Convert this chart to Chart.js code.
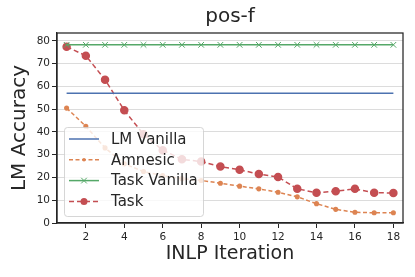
<!DOCTYPE html>
<html lang="en">
<head>
<meta charset="UTF-8">
<title>pos-f</title>
<script src="https://cdn.jsdelivr.net/npm/chart.js"></script>
<style>
    body { margin: 0; background: white; }
    .wrap { width: 415px; height: 277px; }
</style>
</head>
<body>
<div class="wrap"><canvas id="chart" width="415" height="277"></canvas></div>
<script>
const iterations = [1, 2, 3, 4, 5, 6, 7, 8, 9, 10, 11, 12, 13, 14, 15, 16, 17, 18];
const lmVanilla = [57, 57, 57, 57, 57, 57, 57, 57, 57, 57, 57, 57, 57, 57, 57, 57, 57, 57];
const amnesic = [50.5, 42.5, 33, 26, 22.6, 20.8, 19.5, 18.7, 17.5, 16.2, 15, 13.5, 11.5, 8.5, 6, 4.7, 4.5, 4.5];
const taskVanilla = [78.3, 78.3, 78.3, 78.3, 78.3, 78.3, 78.3, 78.3, 78.3, 78.3, 78.3, 78.3, 78.3, 78.3, 78.3, 78.3, 78.3, 78.3];
const task = [77.5, 73.5, 63, 49.5, 39, 32, 28, 27, 24.8, 23.4, 21.5, 20.2, 15, 13.3, 14, 15, 13.3, 13.2];
const xTicks = [2, 4, 6, 8, 10, 12, 14, 16, 18];
const yTicks = [0, 10, 20, 30, 40, 50, 60, 70, 80];

const pts = arr => arr.map((v, i) => ({ x: iterations[i], y: v }));
const dark = '#262626';

// frame on all four sides + title
const framePlugin = {
    id: 'frame',
    afterDraw(chart) {
        const { ctx, chartArea: a } = chart;
        ctx.save();
        ctx.strokeStyle = dark;
        ctx.lineWidth = 1.25;
        ctx.strokeRect(a.left, a.top, a.right - a.left, a.bottom - a.top);
        ctx.fillStyle = dark;
        ctx.font = '20px "DejaVu Sans"';
        ctx.textAlign = 'center';
        ctx.textBaseline = 'middle';
        ctx.fillText('pos-f', (a.left + a.right) / 2, 17);
        ctx.restore();
    }
};

// matplotlib-like legend inside the plot
const boxLegend = {
    id: 'boxLegend',
    afterDraw(chart) {
        const ctx = chart.ctx;
        const x0 = 64, y0 = 127, w = 139, h = 89;
        ctx.save();
        ctx.fillStyle = 'rgba(255,255,255,0.8)';
        ctx.strokeStyle = 'rgba(204,204,204,0.8)';
        ctx.lineWidth = 1;
        ctx.beginPath();
        ctx.roundRect(x0 + 0.5, y0 + 0.5, w, h, 3);
        ctx.fill();
        ctx.stroke();
        chart.data.datasets.forEach((ds, i) => {
            const y = 139 + i * 20.8;
            ctx.strokeStyle = ds.borderColor;
            ctx.lineWidth = ds.borderWidth;
            ctx.setLineDash(ds.borderDash || []);
            ctx.beginPath();
            ctx.moveTo(69, y);
            ctx.lineTo(99, y);
            ctx.stroke();
            ctx.setLineDash([]);
            if (ds.pointRadius > 0) {
                ctx.fillStyle = ds.pointBackgroundColor;
                ctx.strokeStyle = ds.pointBorderColor;
                ctx.beginPath();
                if (ds.pointStyle === 'circle') {
                    ctx.arc(84, y, ds.pointRadius, 0, Math.PI * 2);
                    ctx.fill();
                } else {
                    const r = ds.pointRadius * 0.707;
                    ctx.moveTo(84 - r, y - r); ctx.lineTo(84 + r, y + r);
                    ctx.moveTo(84 + r, y - r); ctx.lineTo(84 - r, y + r);
                    ctx.lineWidth = 1;
                    ctx.stroke();
                }
            }
            ctx.fillStyle = dark;
            ctx.font = '15px "DejaVu Sans"';
            ctx.textAlign = 'left';
            ctx.textBaseline = 'middle';
            ctx.fillText(ds.label, 111, y + 1);
        });
        ctx.restore();
    }
};

new Chart(document.getElementById('chart'), {
    type: 'line',
    data: {
        datasets: [
            {
                label: 'LM Vanilla', data: pts(lmVanilla),
                borderColor: '#4c72b0', borderWidth: 1.5, pointRadius: 0
            },
            {
                label: 'Amnesic', data: pts(amnesic),
                borderColor: '#dd8452', borderWidth: 1.5, borderDash: [4, 2.5],
                pointStyle: 'circle', pointRadius: 1.8,
                pointBackgroundColor: '#dd8452', pointBorderColor: '#dd8452'
            },
            {
                label: 'Task Vanilla', data: pts(taskVanilla),
                borderColor: '#55a868', borderWidth: 1.5,
                pointStyle: 'crossRot', pointRadius: 4,
                pointBackgroundColor: '#55a868', pointBorderColor: '#55a868', pointBorderWidth: 1
            },
            {
                label: 'Task', data: pts(task),
                borderColor: '#c44e52', borderWidth: 1.5, borderDash: [5, 3],
                pointStyle: 'circle', pointRadius: 3.5,
                pointBackgroundColor: '#c44e52', pointBorderColor: '#c44e52'
            }
        ]
    },
    options: {
        responsive: false,
        animation: false,
        layout: { padding: { top: 33, right: 12, left: 0, bottom: 0 } },
        plugins: {
            legend: { display: false },
            tooltip: { enabled: false }
        },
        scales: {
            x: {
                type: 'linear', min: 0.5, max: 18.5,
                afterBuildTicks: s => { s.ticks = xTicks.map(v => ({ value: v })); },
                afterFit: s => { s.height = 54; },
                grid: { drawOnChartArea: false, tickLength: 5, tickColor: dark },
                border: { color: dark, width: 1.25 },
                ticks: { color: dark, font: { size: 10.5, family: 'DejaVu Sans' }, padding: 3, maxRotation: 0 },
                title: { display: true, text: 'INLP Iteration', color: dark,
                         font: { size: 19, family: 'DejaVu Sans' }, padding: { top: 2, bottom: 12 } }
            },
            y: {
                min: 0, max: 83.5,
                afterBuildTicks: s => { s.ticks = yTicks.map(v => ({ value: v })); },
                afterFit: s => { s.width = 57; },
                grid: { color: '#dcdcdc', lineWidth: 1, tickLength: 5, tickColor: dark },
                border: { color: dark, width: 1.25 },
                ticks: { color: dark, font: { size: 10.5, family: 'DejaVu Sans' }, padding: 2 },
                title: { display: true, text: 'LM Accuracy', color: dark,
                         font: { size: 20, family: 'DejaVu Sans' }, padding: { top: 8, bottom: 0 } }
            }
        }
    },
    plugins: [framePlugin, boxLegend]
});
</script>
</body>
</html>
